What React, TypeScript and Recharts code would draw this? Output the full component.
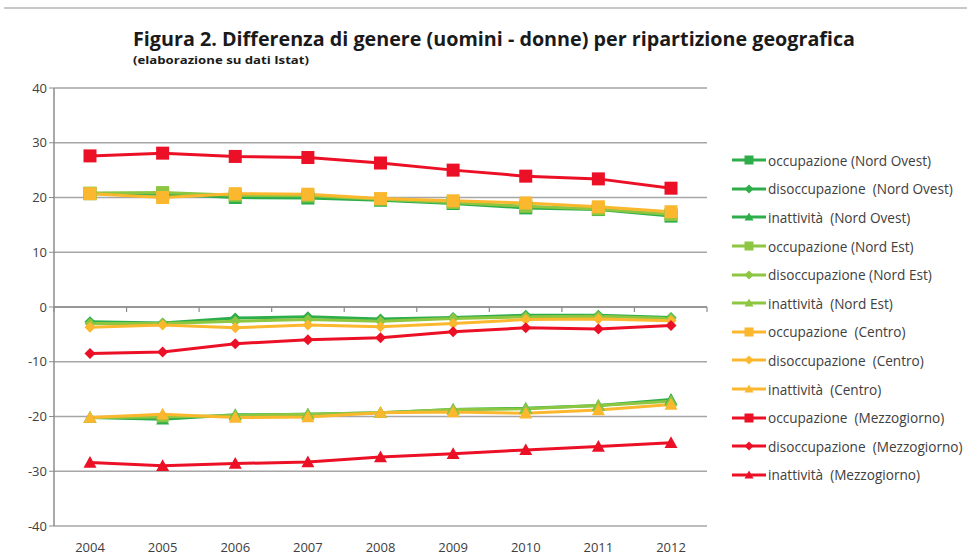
import React from 'react';
import { LineChart, Line, XAxis, YAxis, CartesianGrid, Legend, ReferenceLine } from 'recharts';

const years = ['2004', '2005', '2006', '2007', '2008', '2009', '2010', '2011', '2012'];
const yTicks = [-40, -30, -20, -10, 0, 10, 20, 30, 40];

const occNordOvest = [20.7, 20.6, 20.0, 19.9, 19.5, 18.9, 18.1, 17.8, 16.6];
const disNordOvest = [-2.7, -2.9, -2.0, -1.8, -2.2, -1.9, -1.5, -1.5, -1.9];
const inaNordOvest = [-20.2, -20.5, -19.7, -19.6, -19.3, -18.7, -18.5, -18.0, -16.9];

const occNordEst = [20.8, 20.9, 20.4, 20.3, 19.7, 19.1, 18.4, 17.9, 16.9];
const disNordEst = [-3.0, -3.0, -2.6, -2.3, -2.6, -2.1, -1.8, -1.7, -2.1];
const inaNordEst = [-20.2, -20.1, -19.8, -19.6, -19.3, -18.7, -18.6, -18.0, -17.2];

const occCentro = [20.7, 20.0, 20.7, 20.6, 19.8, 19.4, 19.0, 18.3, 17.4];
const disCentro = [-3.7, -3.3, -3.8, -3.3, -3.6, -3.0, -2.3, -2.2, -2.5];
const inaCentro = [-20.2, -19.6, -20.2, -20.1, -19.3, -19.2, -19.4, -18.8, -17.8];

const occMezzogiorno = [27.6, 28.1, 27.5, 27.3, 26.3, 25.0, 23.9, 23.4, 21.7];
const disMezzogiorno = [-8.5, -8.2, -6.7, -6.0, -5.6, -4.5, -3.8, -4.0, -3.4];
const inaMezzogiorno = [-28.4, -29.0, -28.6, -28.3, -27.4, -26.8, -26.1, -25.5, -24.8];

type Shape = 'square' | 'diamond' | 'triangle';

const series: { key: string; name: string; values: number[]; color: string; shape: Shape }[] = [
  { key: 'occNO', name: 'occupazione (Nord Ovest)', values: occNordOvest, color: '#2EAD4B', shape: 'square' },
  { key: 'disNO', name: 'disoccupazione  (Nord Ovest)', values: disNordOvest, color: '#2EAD4B', shape: 'diamond' },
  { key: 'inaNO', name: 'inattività  (Nord Ovest)', values: inaNordOvest, color: '#2EAD4B', shape: 'triangle' },
  { key: 'occNE', name: 'occupazione (Nord Est)', values: occNordEst, color: '#8DC641', shape: 'square' },
  { key: 'disNE', name: 'disoccupazione (Nord Est)', values: disNordEst, color: '#8DC641', shape: 'diamond' },
  { key: 'inaNE', name: 'inattività  (Nord Est)', values: inaNordEst, color: '#8DC641', shape: 'triangle' },
  { key: 'occCE', name: 'occupazione  (Centro)', values: occCentro, color: '#FBB82E', shape: 'square' },
  { key: 'disCE', name: 'disoccupazione  (Centro)', values: disCentro, color: '#FBB82E', shape: 'diamond' },
  { key: 'inaCE', name: 'inattività  (Centro)', values: inaCentro, color: '#FBB82E', shape: 'triangle' },
  { key: 'occME', name: 'occupazione  (Mezzogiorno)', values: occMezzogiorno, color: '#EC1026', shape: 'square' },
  { key: 'disME', name: 'disoccupazione  (Mezzogiorno)', values: disMezzogiorno, color: '#EC1026', shape: 'diamond' },
  { key: 'inaME', name: 'inattività  (Mezzogiorno)', values: inaMezzogiorno, color: '#EC1026', shape: 'triangle' },
];

const data = years.map((year, i) => {
  const row: Record<string, string | number> = { year };
  series.forEach((s) => {
    row[s.key] = s.values[i];
  });
  return row;
});

const FONT = '"Open Sans", "Liberation Sans", sans-serif';
const TEXT_COLOR = '#404040';
const GRID = '#A6A6A6';

function Marker({ cx, cy, shape, color, size }: { cx: number; cy: number; shape: Shape; color: string; size: number }) {
  if (shape === 'square') {
    const h = size / 2;
    return <rect x={cx - h} y={cy - h} width={size} height={size} fill={color} />;
  }
  if (shape === 'diamond') {
    const h = size / 2;
    return <polygon points={`${cx},${cy - h} ${cx + h},${cy} ${cx},${cy + h} ${cx - h},${cy}`} fill={color} />;
  }
  const h = size / 2;
  return <polygon points={`${cx},${cy - h} ${cx + h},${cy + h * 0.8} ${cx - h},${cy + h * 0.8}`} fill={color} />;
}

const markerSize: Record<Shape, number> = { square: 13, diamond: 11, triangle: 13 };

const renderLegend = () => (
  <div style={{ fontFamily: FONT, fontSize: 13.6, color: TEXT_COLOR }}>
    {series.map((s) => (
      <div key={s.key} style={{ display: 'flex', alignItems: 'center', height: 28.6 }}>
        <svg width={37} height={16}>
          <line x1={1} y1={8} x2={35} y2={8} stroke={s.color} strokeWidth={3} />
          <Marker cx={18} cy={8} shape={s.shape} color={s.color} size={9} />
        </svg>
        <span style={{ whiteSpace: 'pre' }}>{s.name}</span>
      </div>
    ))}
  </div>
);

const renderZeroAxis = (props: any) => {
  const { x1, x2, y1 } = props;
  const band = (x2 - x1) / years.length;
  const marks = Array.from({ length: years.length + 1 }, (_, k) => x1 + k * band);
  return (
    <g>
      <line x1={x1} y1={y1} x2={x2} y2={y1} stroke="#8C8C8C" strokeWidth={1.5} />
      {marks.map((mx, k) => (
        <line key={k} x1={mx} y1={y1} x2={mx} y2={y1 + 5} stroke="#8C8C8C" strokeWidth={1.2} />
      ))}
    </g>
  );
};

export default function App() {
  return (
    <div style={{ position: 'absolute', left: 0, top: 0, width: 967, height: 559, background: '#fff', overflow: 'hidden' }}>
      <div style={{ position: 'absolute', left: 4, right: 0, top: 7, height: 2, background: '#C8C8C8' }} />
      <svg width={967} height={80} style={{ position: 'absolute', left: 0, top: 0 }}>
        <text x={133} y={46} fontFamily={FONT} fontWeight={700} fontSize={20} fill="#1A1A1A" textLength={722} lengthAdjust="spacingAndGlyphs">
          Figura 2. Differenza di genere (uomini - donne) per ripartizione geografica
        </text>
        <text x={133} y={64} fontFamily={FONT} fontWeight={700} fontSize={11} fill="#1A1A1A" textLength={176} lengthAdjust="spacingAndGlyphs">
          (elaborazione su dati Istat)
        </text>
      </svg>
      <div style={{ position: 'absolute', left: 0, top: 0 }}>
        <LineChart width={967} height={559} data={data} margin={{ top: 88, right: 260, bottom: 3, left: 0 }}>
          <CartesianGrid vertical={false} stroke={GRID} strokeWidth={1.5} />
          <XAxis
            dataKey="year"
            height={30}
            axisLine={false}
            tickLine={false}
            padding={{ left: 36, right: 36 }}
            tick={{ fontFamily: FONT, fontSize: 13, fill: TEXT_COLOR }}
            tickMargin={11}
            interval={0}
          />
          <YAxis
            domain={[-40, 40]}
            ticks={yTicks}
            width={54}
            axisLine={{ stroke: '#8C8C8C', strokeWidth: 1.5 }}
            tickLine={{ stroke: '#8C8C8C' }}
            tickSize={5}
            tick={{ fontFamily: FONT, fontSize: 13, fill: TEXT_COLOR }}
          />
          <ReferenceLine y={0} shape={renderZeroAxis} />
          {series.map((s) => (
            <Line
              key={s.key}
              dataKey={s.key}
              name={s.name}
              stroke={s.color}
              strokeWidth={3}
              isAnimationActive={false}
              dot={(p: any) => (
                <Marker key={`${s.key}-${p.index}`} cx={p.cx} cy={p.cy} shape={s.shape} color={s.color} size={markerSize[s.shape]} />
              )}
              activeDot={false}
            />
          ))}
          <Legend
            layout="vertical"
            align="center"
            verticalAlign="middle"
            content={renderLegend}
            wrapperStyle={{ position: 'absolute', left: 731, top: 146, width: 236 }}
          />
        </LineChart>
      </div>
    </div>
  );
}
